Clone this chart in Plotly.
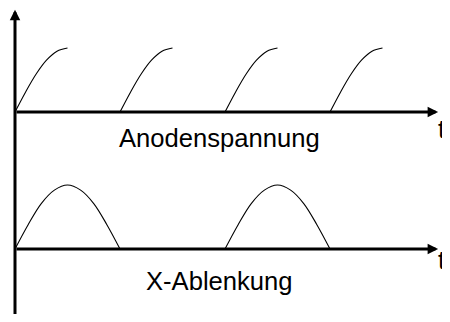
import plotly.graph_objects as go

# data (time in sawtooth periods, amplitude = 1)
anode_starts = [0, 1, 2, 3]
anode_offsets = [0, 0.1, 0.2, 0.3, 0.4, 0.5]
anode_values = [0, 0.31, 0.59, 0.81, 0.95, 1.0]

sweep_starts = [0, 2]
sweep_offsets = [0, 0.125, 0.25, 0.375, 0.5, 0.625, 0.75, 0.875, 1.0]
sweep_values = [0, 0.38, 0.71, 0.92, 1.0, 0.92, 0.71, 0.38, 0]

labels = ["Anodenspannung", "X-Ablenkung"]
axis_label = "t"

UPPER = 2.14  # baseline of the upper trace
FONT = dict(family="Arial, Liberation Sans, sans-serif", size=25.6, color="black")

fig = go.Figure()

for s in anode_starts:
    fig.add_trace(go.Scatter(
        x=[s + o for o in anode_offsets],
        y=[UPPER + v for v in anode_values],
        mode="lines", line=dict(color="black", width=1.1, shape="spline"),
        hoverinfo="skip"))

for s in sweep_starts:
    fig.add_trace(go.Scatter(
        x=[s + o for o in sweep_offsets],
        y=sweep_values,
        mode="lines", line=dict(color="black", width=1.1, shape="spline"),
        hoverinfo="skip"))

# axes with arrow heads
arrow = dict(text="", showarrow=True, arrowhead=2, arrowsize=0.7, arrowwidth=3,
             arrowcolor="black", axref="x", ayref="y", standoff=0)
fig.add_annotation(x=0, y=3.74, ax=0, ay=-1.4, **arrow)
fig.add_annotation(x=4.03, y=UPPER, ax=0, ay=UPPER, **arrow)
fig.add_annotation(x=4.03, y=0, ax=0, ay=0, **arrow)

fig.add_annotation(x=1.95, y=1.74, text=labels[0], showarrow=False, font=FONT)
fig.add_annotation(x=1.95, y=-0.50, text=labels[1], showarrow=False, font=FONT)
# the "t" at the end of each time axis, just past the arrow heads
for ty in [UPPER - 0.265, -0.17]:
    fig.add_annotation(x=0.99, xref="paper", y=ty, text=axis_label,
                       showarrow=False, xanchor="right", borderpad=0,
                       font=FONT)

# the page puts the figure 8 px in from the corner (and keeps 8 px below it),
# so the figure is kept small enough that the page does not scroll
fig.update_xaxes(range=[-7 / 105, 435 / 105], visible=False)
fig.update_yaxes(range=[-65 / 64, 241 / 64], visible=False)
fig.update_layout(width=442, height=306, margin=dict(l=0, r=0, t=0, b=0),
                  showlegend=False, plot_bgcolor="white", paper_bgcolor="white")

fig.write_html("out.html")
